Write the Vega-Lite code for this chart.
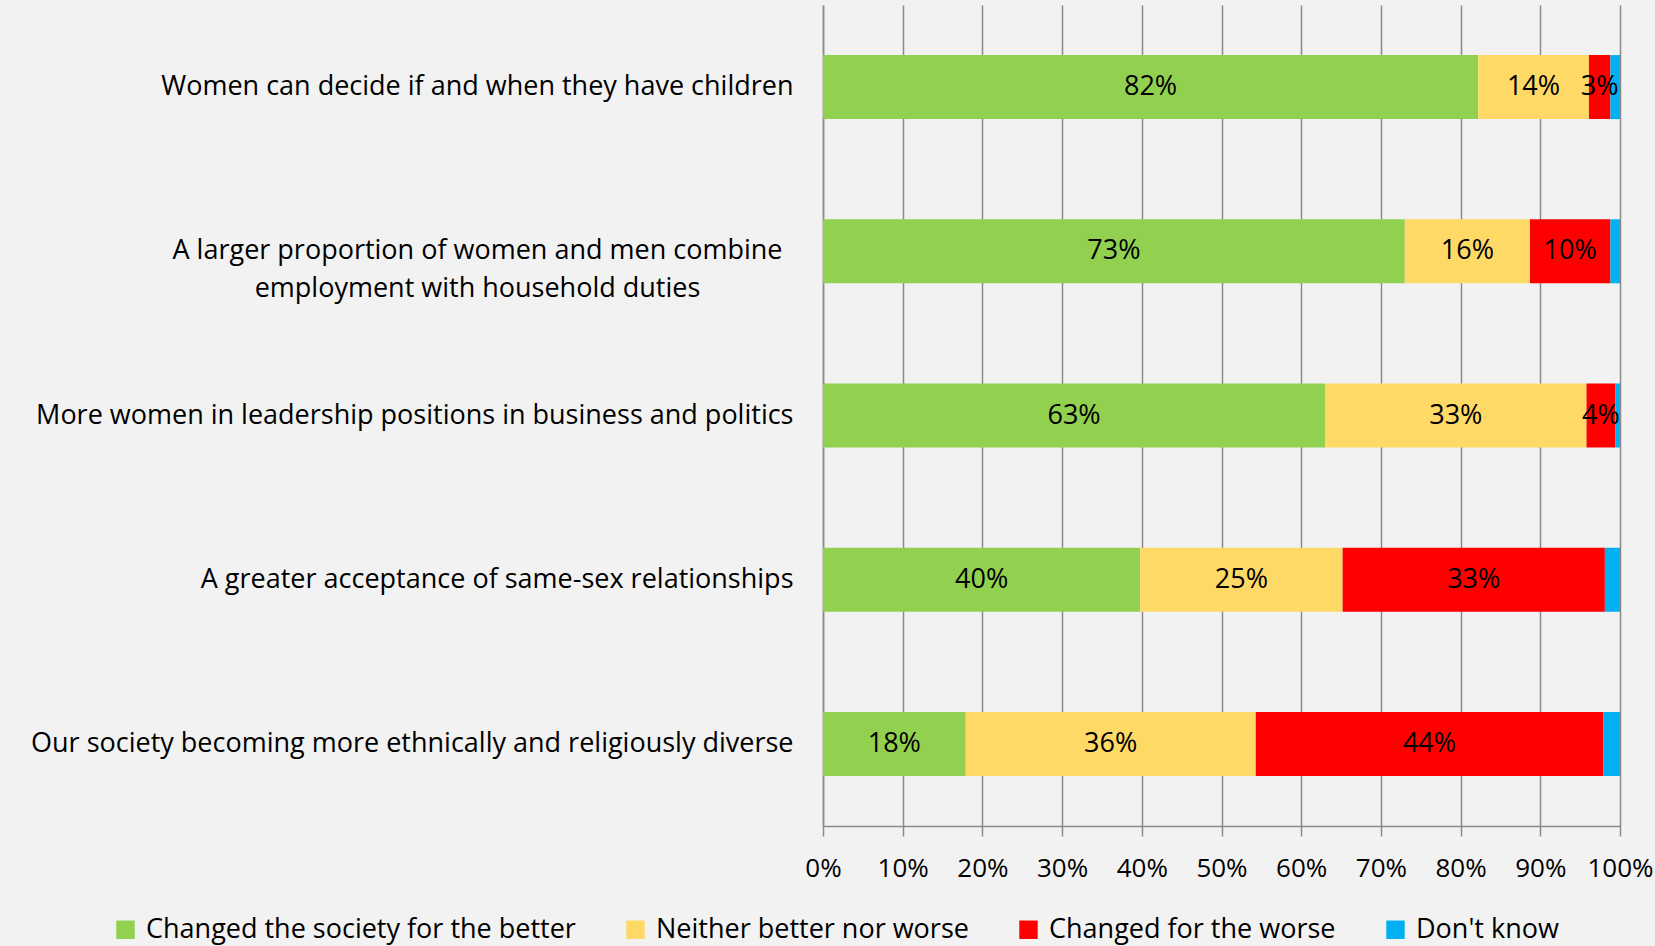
{
  "$schema": "https://vega.github.io/schema/vega-lite/v6.json",
  "autosize": {"type": "none"},
  "padding": {"left": 823, "top": 5, "right": 35, "bottom": 121},
  "width": 797,
  "height": 821,
  "background": "#F2F2F2",
  "config": {
    "view": {"stroke": null},
    "font": "Open Sans"
  },
  "data": {
    "values": [
      {"item": "Women can decide if and when they have children", "cat": "Changed the society for the better", "ord": 1, "v": 0.822},
      {"item": "Women can decide if and when they have children", "cat": "Neither better nor worse", "ord": 2, "v": 0.139},
      {"item": "Women can decide if and when they have children", "cat": "Changed for the worse", "ord": 3, "v": 0.027},
      {"item": "Women can decide if and when they have children", "cat": "Don't know", "ord": 4, "v": 0.012},
      {"item": "A larger proportion of women and men combine employment with household duties", "cat": "Changed the society for the better", "ord": 1, "v": 0.730},
      {"item": "A larger proportion of women and men combine employment with household duties", "cat": "Neither better nor worse", "ord": 2, "v": 0.157},
      {"item": "A larger proportion of women and men combine employment with household duties", "cat": "Changed for the worse", "ord": 3, "v": 0.101},
      {"item": "A larger proportion of women and men combine employment with household duties", "cat": "Don't know", "ord": 4, "v": 0.012},
      {"item": "More women in leadership positions in business and politics", "cat": "Changed the society for the better", "ord": 1, "v": 0.630},
      {"item": "More women in leadership positions in business and politics", "cat": "Neither better nor worse", "ord": 2, "v": 0.328},
      {"item": "More women in leadership positions in business and politics", "cat": "Changed for the worse", "ord": 3, "v": 0.036},
      {"item": "More women in leadership positions in business and politics", "cat": "Don't know", "ord": 4, "v": 0.006},
      {"item": "A greater acceptance of same-sex relationships", "cat": "Changed the society for the better", "ord": 1, "v": 0.398},
      {"item": "A greater acceptance of same-sex relationships", "cat": "Neither better nor worse", "ord": 2, "v": 0.254},
      {"item": "A greater acceptance of same-sex relationships", "cat": "Changed for the worse", "ord": 3, "v": 0.329},
      {"item": "A greater acceptance of same-sex relationships", "cat": "Don't know", "ord": 4, "v": 0.019},
      {"item": "Our society becoming more ethnically and religiously diverse", "cat": "Changed the society for the better", "ord": 1, "v": 0.179},
      {"item": "Our society becoming more ethnically and religiously diverse", "cat": "Neither better nor worse", "ord": 2, "v": 0.364},
      {"item": "Our society becoming more ethnically and religiously diverse", "cat": "Changed for the worse", "ord": 3, "v": 0.436},
      {"item": "Our society becoming more ethnically and religiously diverse", "cat": "Don't know", "ord": 4, "v": 0.021}
    ]
  },
  "encoding": {
    "y": {
      "field": "item",
      "type": "nominal",
      "sort": null,
      "scale": {"paddingInner": 0, "paddingOuter": 0},
      "axis": {
        "title": null,
        "ticks": false,
        "domainColor": "#8a8a8a",
        "domainWidth": 1.5,
        "labelFont": "Open Sans",
        "labelFontSize": 27,
        "labelColor": "#000000",
        "labelLimit": 1000,
        "labelLineHeight": 38,
        "labelAlign": {"condition": {"test": "indexof(datum.value, 'combine') >= 0", "value": "center"}, "value": "right"},
        "labelPadding": {"condition": {"test": "indexof(datum.value, 'combine') >= 0", "value": 346}, "value": 30},
        "labelExpr": "indexof(datum.value, 'combine') >= 0 ? ['A larger proportion of women and men combine', 'employment with household duties'] : datum.label"
      }
    }
  },
  "layer": [
    {
      "mark": {"type": "bar", "height": {"band": 0.39}},
      "encoding": {
        "x": {
          "field": "v",
          "type": "quantitative",
          "stack": "zero",
          "scale": {"domain": [0, 1], "nice": false},
          "axis": {
            "title": null,
            "values": [0, 0.1, 0.2, 0.3, 0.4, 0.5, 0.6, 0.7, 0.8, 0.9, 1],
            "format": ".0%",
            "grid": true,
            "gridColor": "#8a8a8a",
            "gridWidth": 1.5,
            "tickSize": 10,
            "tickColor": "#8a8a8a",
            "tickWidth": 1.5,
            "domainColor": "#8a8a8a",
            "domainWidth": 1.5,
            "labelFont": "Open Sans",
            "labelFontSize": 26,
            "labelColor": "#000000",
            "labelPadding": 19,
            "labelFlush": false,
            "labelOverlap": false
          }
        },
        "color": {
          "field": "cat",
          "type": "nominal",
          "scale": {
            "domain": ["Changed the society for the better", "Neither better nor worse", "Changed for the worse", "Don't know"],
            "range": ["#92D050", "#FFD966", "#FF0000", "#00B0F0"]
          },
          "legend": {
            "title": null,
            "orient": "none",
            "direction": "horizontal",
            "legendX": -711,
            "legendY": 911,
            "symbolType": "square",
            "symbolSize": 340,
            "symbolStrokeWidth": 0,
            "symbolOpacity": 1,
            "labelFont": "Open Sans",
            "labelFontSize": 27,
            "labelColor": "#000000",
            "labelOffset": 7,
            "labelLimit": 1000,
            "columnPadding": 46
          }
        },
        "order": {"field": "ord", "type": "quantitative"}
      }
    },
    {
      "transform": [
        {"stack": "v", "groupby": ["item"], "sort": [{"field": "ord", "order": "ascending"}], "as": ["x0", "x1"]},
        {"filter": "datum.ord < 4"},
        {"calculate": "(datum.x0 + datum.x1) / 2", "as": "mid"}
      ],
      "mark": {"type": "text", "font": "Open Sans", "fontSize": 27, "color": "#000000", "baseline": "middle", "align": "center"},
      "encoding": {
        "x": {"field": "mid", "type": "quantitative"},
        "text": {"field": "v", "type": "quantitative", "format": ".0%"}
      }
    }
  ]
}
